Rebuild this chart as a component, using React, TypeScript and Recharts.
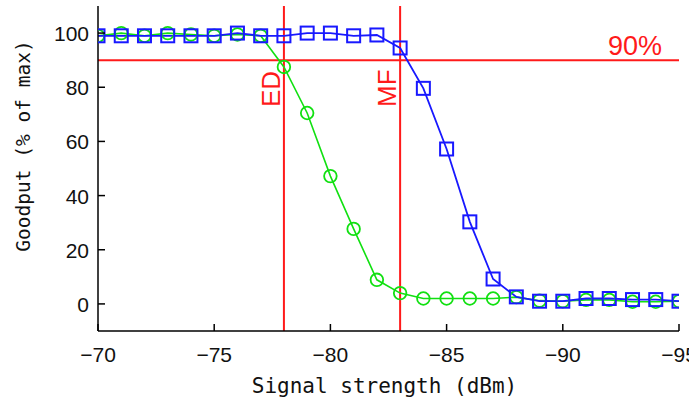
import React from 'react';
import { LineChart, Line, XAxis, YAxis, ReferenceLine, Label } from 'recharts';

// ---------- data ----------
const signalDbm = [-70, -71, -72, -73, -74, -75, -76, -77, -78, -79, -80, -81, -82, -83, -84, -85, -86, -87, -88, -89, -90, -91, -92, -93, -94, -95];
const greenGoodput = [99, 100, 99, 100, 99.5, 99, 99.5, 99, 87.5, 70.5, 47.2, 27.7, 8.9, 4, 2, 2, 2, 2, 2.5, 1.2, 1, 1.5, 1.5, 0.8, 0.8, 1];
const blueGoodput = [99, 99, 99, 99, 99, 99, 100, 99, 99, 100, 100, 99, 99.3, 94.5, 79.6, 57.2, 30.3, 9.2, 2.6, 1, 1, 2, 2, 1.6, 1.6, 1];
const xTicks = [-70, -75, -80, -85, -90, -95];
const yTicks = [0, 20, 40, 60, 80, 100];
const xDomain = [-95, -70];
const yDomain = [-10, 110];
const edThreshold = -78;
const mfThreshold = -83;
const goodputThreshold = 90;

const data = signalDbm.map((s, i) => ({ signal: s, green: greenGoodput[i], blue: blueGoodput[i] }));

// ---------- styles ----------
const RED = '#ff1a1a';
const GREEN = '#11e011';
const BLUE = '#1818ff';
const TICK_FONT = '"Liberation Sans", Arial, sans-serif';
const MONO_FONT = '"DejaVu Sans Mono", "Liberation Mono", monospace';
const TICK_LEN = 7;

const fmt = (v: number) => String(v).replace('-', '\u2212');

const BottomTick = (p: any) => (
  <g>
    <line x1={p.x} x2={p.x} y1={p.y} y2={p.y - TICK_LEN} stroke="#000" strokeWidth={1.5} />
    <text x={p.x} y={p.y + 31} textAnchor="middle" fontFamily={TICK_FONT} fontSize={21} fill="#111">
      {fmt(p.payload.value)}
    </text>
  </g>
);
const TopTick = (p: any) => (
  <line x1={p.x} x2={p.x} y1={p.y} y2={p.y + TICK_LEN} stroke="#000" strokeWidth={1.5} />
);
const LeftTick = (p: any) => (
  <g>
    <line x1={p.x} x2={p.x + TICK_LEN} y1={p.y} y2={p.y} stroke="#000" strokeWidth={1.5} />
    <text x={p.x - 9} y={p.y + 8} textAnchor="end" fontFamily={TICK_FONT} fontSize={21} fill="#111">
      {fmt(p.payload.value)}
    </text>
  </g>
);
const RightTick = (p: any) => (
  <line x1={p.x} x2={p.x - TICK_LEN} y1={p.y} y2={p.y} stroke="#000" strokeWidth={1.5} />
);

const SquareDot = (p: any) => {
  if (p.cx == null || p.cy == null) return <g key={p.key} />;
  return (
    <rect key={p.key} x={p.cx - 6.5} y={p.cy - 6.5} width={13} height={13} fill="none" stroke={BLUE} strokeWidth={2} />
  );
};
const CircleDot = (p: any) => {
  if (p.cx == null || p.cy == null) return <g key={p.key} />;
  return <circle key={p.key} cx={p.cx} cy={p.cy} r={6.3} fill="none" stroke={GREEN} strokeWidth={1.8} />;
};

const VLabel = (text: string) => (p: any) => {
  const vb = p.viewBox;
  const bx = vb.x - 4;
  const by = 107;
  return (
    <text
      x={bx}
      y={by}
      transform={`rotate(-90, ${bx}, ${by})`}
      textAnchor="start"
      fontFamily={TICK_FONT}
      fontSize={26}
      fill={RED}
    >
      {text}
    </text>
  );
};

const HLabel = (p: any) => {
  const vb = p.viewBox;
  return (
    <text x={vb.x + vb.width - 17} y={vb.y - 5} textAnchor="end" fontFamily={TICK_FONT} fontSize={27} fill={RED}>
      90%
    </text>
  );
};

export default function App() {
  return (
    <div style={{ position: 'absolute', left: 0, top: 0, background: '#fff' }}>
      <LineChart width={689} height={403} data={data} margin={{ top: 6, right: 10, bottom: 0, left: 0 }}>
        <XAxis
          dataKey="signal"
          type="number"
          domain={xDomain}
          reversed
          ticks={xTicks}
          allowDataOverflow
          height={72}
          tickSize={0}
          tickMargin={0}
          tickLine={false}
          axisLine={{ stroke: '#000', strokeWidth: 1.5 }}
          tick={BottomTick}
          interval={0}
        >
          <Label
            content={(p: any) => {
              const vb = p.viewBox;
              return (
                <text x={vb.x + vb.width / 2 - 4} y={393} textAnchor="middle" fontFamily={MONO_FONT} fontSize={21} fill="#111">
                  Signal strength (dBm)
                </text>
              );
            }}
          />
        </XAxis>
        <XAxis
          xAxisId="top"
          orientation="top"
          dataKey="signal"
          type="number"
          domain={xDomain}
          reversed
          ticks={xTicks}
          allowDataOverflow
          height={0}
          tickSize={0}
          tickMargin={0}
          tickLine={false}
          axisLine={{ stroke: '#000', strokeWidth: 1.5 }}
          tick={TopTick}
          interval={0}
        />
        <YAxis
          type="number"
          domain={yDomain}
          ticks={yTicks}
          allowDataOverflow
          width={98}
          tickSize={0}
          tickMargin={0}
          tickLine={false}
          axisLine={{ stroke: '#000', strokeWidth: 1.5 }}
          tick={LeftTick}
          interval={0}
        >
          <Label
            content={() => (
              <text
                x={30}
                y={146}
                transform="rotate(-90, 30, 146)"
                textAnchor="middle"
                fontFamily={MONO_FONT}
                fontSize={19.5}
                fill="#111"
              >
                Goodput (% of max)
              </text>
            )}
          />
        </YAxis>
        <YAxis
          yAxisId="right"
          orientation="right"
          type="number"
          domain={yDomain}
          ticks={yTicks}
          allowDataOverflow
          width={0}
          tickSize={0}
          tickMargin={0}
          tickLine={false}
          axisLine={{ stroke: '#000', strokeWidth: 1.5 }}
          tick={RightTick}
          interval={0}
        />
        <ReferenceLine x={edThreshold} stroke={RED} strokeWidth={2} label={VLabel('ED')} />
        <ReferenceLine x={mfThreshold} stroke={RED} strokeWidth={2} label={VLabel('MF')} />
        <ReferenceLine y={goodputThreshold} stroke={RED} strokeWidth={2} label={HLabel} />
        <Line
          dataKey="green"
          stroke={GREEN}
          strokeWidth={1.6}
          dot={CircleDot}
          isAnimationActive={false}
        />
        <Line
          dataKey="blue"
          stroke={BLUE}
          strokeWidth={1.8}
          dot={SquareDot}
          isAnimationActive={false}
        />
      </LineChart>
    </div>
  );
}
